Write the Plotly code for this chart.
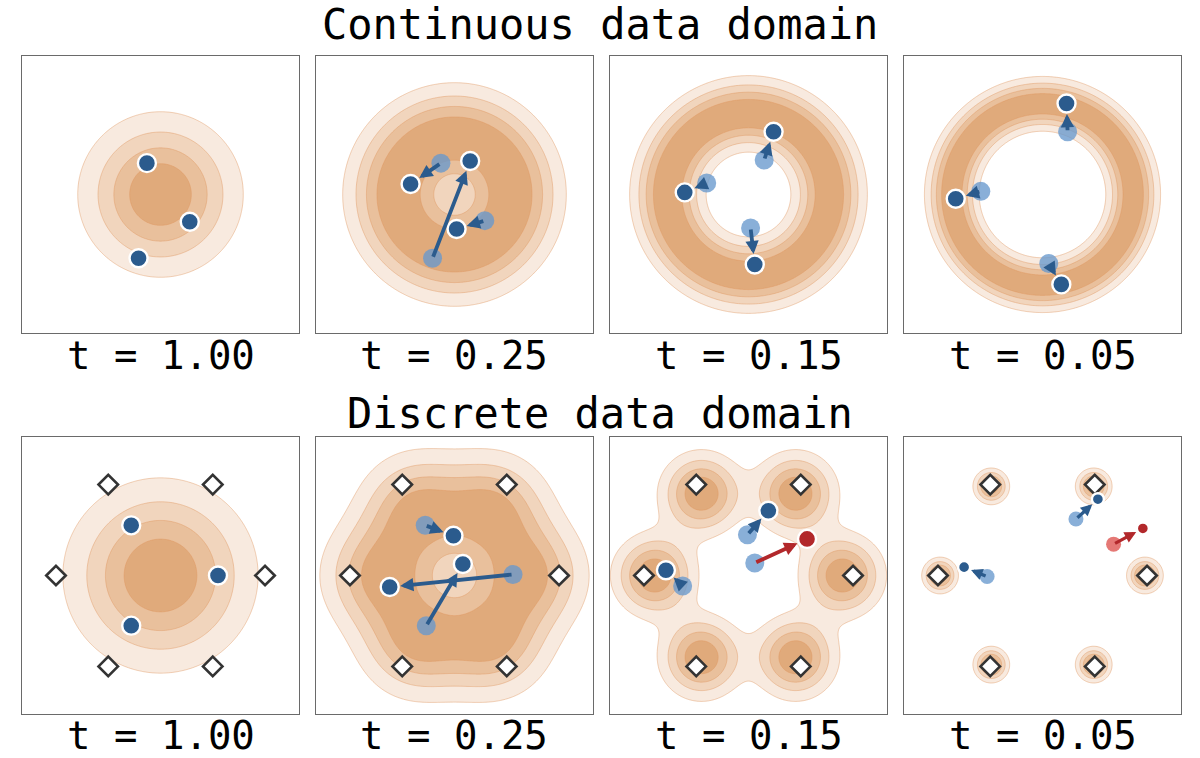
import numpy as np
import plotly.graph_objects as go

# colours
BLUE = "#2b5b8d"
RED = "#b2282b"
LIGHT_BLUE = "rgba(104,153,205,0.78)"
LIGHT_RED = "rgba(222,82,78,0.78)"
BAND_COLORS = ["#ffffff", "#f8eadf", "#f1d5bd", "#e9c09c", "#e0aa7b"]
FONT = "DejaVu Sans Mono"

# ---- data (hexagon radius = 1 unit) ----
t_labels = ["t = 1.00", "t = 0.25", "t = 0.15", "t = 0.05"]

hex_x = [1.0, 0.5, -0.5, -1.0, -0.5, 0.5]
hex_y = [0.0, 0.87, 0.87, 0.0, -0.87, -0.87]

# continuous domain: ring of radius R blurred with sigma
cont_ring_radius = [0.05, 0.62, 0.80, 0.88]
cont_sigma = [0.44, 0.28, 0.20, 0.145]

cont_now_x = [[-0.13, 0.28, -0.21], [-0.42, 0.02, 0.15], [-0.61, 0.06, 0.24], [-0.83, 0.18, 0.23]]
cont_now_y = [[0.30, -0.26, -0.61], [0.10, -0.33, 0.32], [0.02, -0.67, 0.60], [-0.04, -0.86, 0.87]]
cont_prev_x = [None, [-0.13, 0.29, -0.21], [-0.40, 0.02, 0.15], [-0.59, 0.06, 0.24]]
cont_prev_y = [None, [0.30, -0.25, -0.61], [0.11, -0.32, 0.33], [0.03, -0.66, 0.60]]

# discrete domain: six modes on the hexagon, shrunk by scale, blurred with sigma
disc_scale = [0.2, 0.72, 0.9, 0.98]
disc_sigma = [0.50, 0.335, 0.235, 0.098]

disc_now_x = [[-0.28, 0.55, -0.28], [-0.01, -0.62, 0.08], [0.19, -0.79, 0.56], [0.53, -0.75, 0.96]]
disc_now_y = [[0.48, 0.00, -0.48], [0.38, -0.11, 0.11], [0.62, 0.05, 0.35], [0.73, 0.08, 0.45]]
disc_prev_x = [None, [-0.28, 0.56, -0.27], [-0.01, -0.63, 0.06], [0.32, -0.53, 0.68]]
disc_prev_y = [None, [0.48, 0.01, -0.48], [0.39, -0.10, 0.12], [0.54, -0.01, 0.30]]
disc_red_now = [False, False, True, True]     # third particle drawn red
disc_red_prev = [False, False, False, True]
disc_dot_size = [18, 18, 18, 12]
disc_prev_size = [19, 19, 19, 15]

# ---- layout geometry (pixels in a 1200x758 page) ----
W, H = 1200, 758
col_px = [(22, 299), (316, 593), (610, 887), (904, 1181)]
row_px = [(56, 333), (437, 714)]
label_px = [356, 735]
RANGE = [-1.325, 1.325]

grid = np.linspace(RANGE[0], RANGE[1], 265)
gx, gy = np.meshgrid(grid, grid)
rr = np.hypot(gx, gy)


def ring_density(radius, sigma):
    d = np.exp(-(rr ** 2 + radius ** 2) / (2 * sigma ** 2)) * np.i0(rr * radius / sigma ** 2)
    return d / d.max()


def mixture_density(scale, sigma):
    d = np.zeros_like(gx)
    for hx, hy in zip(hex_x, hex_y):
        d += np.exp(-((gx - scale * hx) ** 2 + (gy - scale * hy) ** 2) / (2 * sigma ** 2))
    return d / d.max()


colorscale = [[i / (len(BAND_COLORS) - 1), c] for i, c in enumerate(BAND_COLORS)]

fig = go.Figure()
layout = {}


def axis_names(k):
    s = "" if k == 1 else str(k)
    return "x" + s, "y" + s, "xaxis" + s, "yaxis" + s


def add_arrow(xa, ya, x0, y0, x1, y1, color, standoff, width):
    fig.add_annotation(x=x1, y=y1, ax=x0, ay=y0, xref=xa, yref=ya, axref=xa, ayref=ya,
                       text="", showarrow=True, arrowhead=2, arrowsize=0.7,
                       arrowwidth=width, arrowcolor=color, standoff=standoff)


for row in range(2):
    for col in range(4):
        k = row * 4 + col + 1
        xa, ya, xname, yname = axis_names(k)
        x0p, x1p = col_px[col]
        y0p, y1p = row_px[row]
        common = dict(range=RANGE, showticklabels=False, ticks="", showgrid=False,
                      zeroline=False, showline=True, mirror=True,
                      linecolor="#6a6a6a", linewidth=1.3, fixedrange=True)
        layout[xname] = dict(domain=[x0p / W, x1p / W], anchor=ya, **common)
        layout[yname] = dict(domain=[1 - y1p / H, 1 - y0p / H], anchor=xa, **common)

        if row == 0:
            z = ring_density(cont_ring_radius[col], cont_sigma[col])
            now_x, now_y = cont_now_x[col], cont_now_y[col]
            prev_x, prev_y = cont_prev_x[col], cont_prev_y[col]
            red_now, red_prev = False, False
            dot, prev_dot = 18, 19
        else:
            z = mixture_density(disc_scale[col], disc_sigma[col])
            now_x, now_y = disc_now_x[col], disc_now_y[col]
            prev_x, prev_y = disc_prev_x[col], disc_prev_y[col]
            red_now, red_prev = disc_red_now[col], disc_red_prev[col]
            dot, prev_dot = disc_dot_size[col], disc_prev_size[col]

        fig.add_trace(go.Contour(
            x=grid, y=grid, z=z, xaxis=xa, yaxis=ya,
            contours=dict(start=0.2, end=0.8, size=0.2, coloring="fill"),
            colorscale=colorscale, showscale=False, hoverinfo="skip",
            line=dict(color="rgba(222,150,95,0.55)", width=0.8, smoothing=1.0),
        ))

        if row == 1:
            fig.add_trace(go.Scatter(
                x=hex_x, y=hex_y, xaxis=xa, yaxis=ya, mode="markers", hoverinfo="skip",
                marker=dict(symbol="diamond", size=15, color="white",
                            line=dict(color="#333333", width=2.6)),
                showlegend=False))

        now_cols = [BLUE, BLUE, RED if red_now else BLUE]
        if prev_x is not None:
            prev_cols = [LIGHT_BLUE, LIGHT_BLUE, LIGHT_RED if red_prev else LIGHT_BLUE]
            fig.add_trace(go.Scatter(
                x=prev_x, y=prev_y, xaxis=xa, yaxis=ya, mode="markers", hoverinfo="skip",
                marker=dict(size=prev_dot, color=prev_cols, line=dict(width=0)),
                showlegend=False))
            for i in range(3):
                add_arrow(xa, ya, prev_x[i], prev_y[i], now_x[i], now_y[i],
                          now_cols[i], dot / 2 + 1.5, 3.8 if dot > 14 else 3.3)

        fig.add_trace(go.Scatter(
            x=now_x, y=now_y, xaxis=xa, yaxis=ya, mode="markers", hoverinfo="skip",
            marker=dict(size=dot, color=now_cols, line=dict(color="white", width=2.4)),
            showlegend=False))

        # t label under each panel
        fig.add_annotation(x=(x0p + x1p) / 2 / W, y=1 - label_px[row] / H,
                           xref="paper", yref="paper",
                           text=t_labels[col], showarrow=False, xanchor="center",
                           yanchor="middle", font=dict(family=FONT, size=39, color="black"))

for text, ypx in [("Continuous data domain", 24), ("Discrete data domain", 413)]:
    fig.add_annotation(x=0.5, y=1 - ypx / H, xref="paper", yref="paper", text=text,
                       showarrow=False, xanchor="center", yanchor="middle",
                       font=dict(family=FONT, size=42, color="black"))

fig.update_layout(width=W, height=H, margin=dict(l=0, r=0, t=0, b=0),
                  paper_bgcolor="white", plot_bgcolor="white", showlegend=False, **layout)

# page body has a default margin, drop it so the figure fills the window
fig.write_html("out.html", config={"displayModeBar": False},
               post_script="document.body.style.margin='0';")
